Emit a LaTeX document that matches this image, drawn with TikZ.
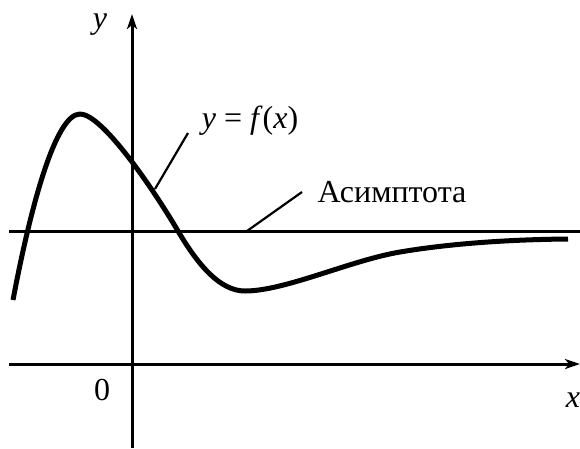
\documentclass[tikz,border=0pt]{standalone}
\usepackage{fontspec}
\setmainfont{Liberation Serif}
\usetikzlibrary{arrows.meta}
\begin{document}
\begin{tikzpicture}[x=1pt,y=-1pt,
  axis/.style={line width=3pt,-{Stealth[length=15pt,width=10pt,inset=4pt]}},
  asym/.style={line width=3pt},
  curve/.style={line width=5pt,line join=round},
  leader/.style={line width=2.2pt},
  lbl/.style={inner sep=0pt,font=\fontsize{32}{36}\selectfont}]
\useasboundingbox (0,0) rectangle (580,448);
% axes
\coordinate (xs) at (9,364);
\coordinate (xe) at (580,364);
\coordinate (ys) at (132,448);
\coordinate (ye) at (132,14);
\draw[axis] (xs) -- (xe);
\draw[axis] (ys) -- (ye);
% asymptote
\coordinate (as) at (9,231);
\coordinate (ae) at (580,231);
\draw[asym] (as) -- (ae);
% curve
\coordinate (c0) at (13,300);
\coordinate (c1) at (80,114);
\coordinate (c2) at (178,231);
\coordinate (c3) at (245,291);
\coordinate (c4) at (400,252);
\coordinate (c5) at (568,239);
\draw[curve] (c0) .. controls (30,210) and (55,114) .. (c1)
  .. controls (102,114) and (152,187) .. (c2)
  .. controls (198,265) and (220,291) .. (c3)
  .. controls (285,291) and (350,260.5) .. (c4)
  .. controls (450,243.5) and (510,239.5) .. (c5);
% labels
\node[lbl,font=\fontsize{32}{36}\selectfont\itshape] (ylab) at (100,25) {y};
\node[lbl,font=\fontsize{32}{36}\selectfont\itshape] (xlab) at (573,400) {x};
\node[lbl] (zero) at (102,390) {0};
\node[lbl,anchor=base] (flab) at (250,128) {\itshape y\/\upshape{} = \itshape f\/\upshape(\itshape x\/\upshape)};
\node[lbl] (alab) at (392,192) {Асимптота};
% leaders
\coordinate (f1) at (155,189);
\coordinate (f2) at (188,133);
\draw[leader] (f1) -- (f2);
\coordinate (a1) at (247,231);
\coordinate (a2) at (302,192);
\draw[leader] (a1) -- (a2);
\end{tikzpicture}
\end{document}
